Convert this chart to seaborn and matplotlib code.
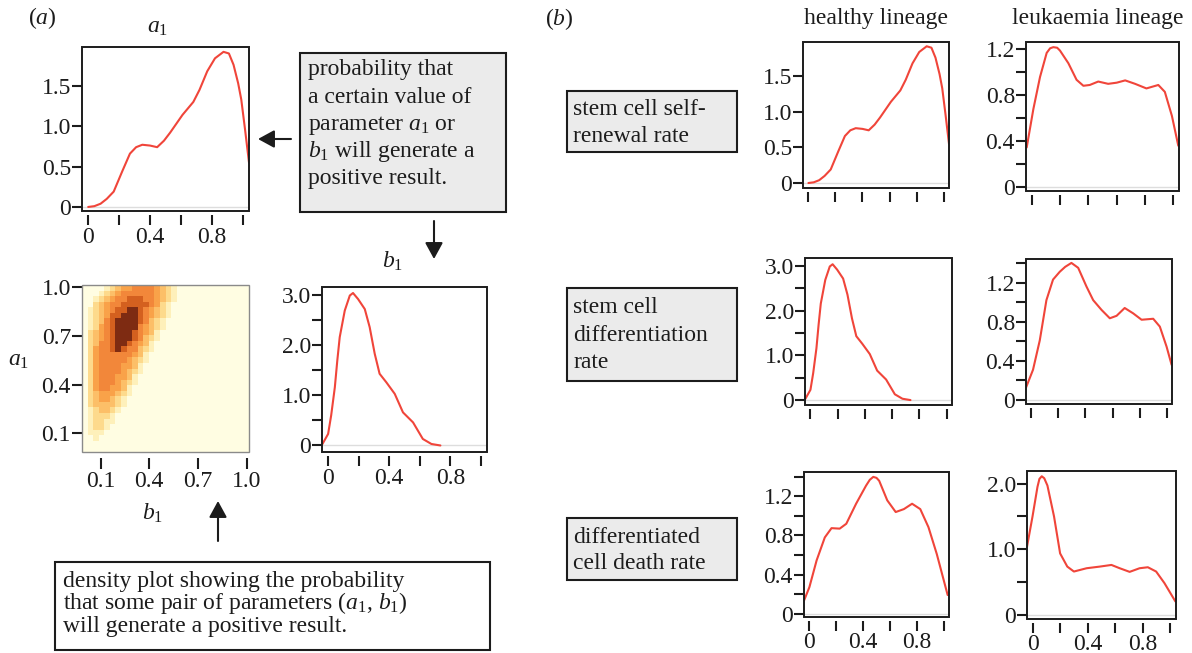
import numpy as np
import matplotlib
matplotlib.use("Agg")
import matplotlib.pyplot as plt
from matplotlib.colors import ListedColormap
from matplotlib.patches import Rectangle, FancyArrowPatch
import seaborn as sns

sns.set_theme(style="ticks")
plt.rcParams["font.family"] = ["Liberation Serif", "DejaVu Serif"]
plt.rcParams["mathtext.fontset"] = "custom"
plt.rcParams["mathtext.rm"] = "Liberation Serif"
plt.rcParams["mathtext.it"] = "Liberation Serif:italic"

# -----------------------------
# Data
# -----------------------------
# marginal density of a1 (also healthy self-renewal)
a1_x = [0.0, 0.04, 0.08, 0.12, 0.165, 0.22, 0.27, 0.31, 0.35, 0.40, 0.446, 0.49, 0.53, 0.57,
        0.61, 0.68, 0.72, 0.77, 0.82, 0.875, 0.91, 0.94, 0.97, 0.99, 1.015, 1.04]
a1_y = [0.0, 0.01, 0.04, 0.10, 0.19, 0.44, 0.66, 0.74, 0.77, 0.76, 0.74, 0.82, 0.92, 1.03,
        1.14, 1.30, 1.45, 1.68, 1.84, 1.92, 1.90, 1.76, 1.53, 1.33, 0.95, 0.55]

# marginal density of b1 (also healthy differentiation)
b1_x = [-0.037, 0.0, 0.02, 0.044, 0.06, 0.076, 0.109, 0.142, 0.163, 0.196, 0.24, 0.272, 0.305,
        0.337, 0.381, 0.436, 0.49, 0.556, 0.62, 0.676, 0.735]
b1_y = [0.03, 0.23, 0.60, 1.16, 1.69, 2.16, 2.69, 2.99, 3.04, 2.92, 2.72, 2.36, 1.83,
        1.43, 1.26, 1.03, 0.66, 0.46, 0.13, 0.03, 0.0]

# leukaemia self-renewal
ls_x = [-0.035, 0.012, 0.059, 0.106, 0.13, 0.153, 0.18, 0.2, 0.259, 0.317, 0.365, 0.41, 0.47,
        0.54, 0.60, 0.66, 0.73, 0.81, 0.894, 0.94, 0.99, 1.035]
ls_y = [0.345, 0.68, 0.96, 1.17, 1.21, 1.22, 1.215, 1.19, 1.08, 0.935, 0.883, 0.89, 0.92,
        0.90, 0.91, 0.93, 0.90, 0.86, 0.89, 0.83, 0.62, 0.36]

# leukaemia differentiation
ld_x = [-0.042, 0.012, 0.062, 0.111, 0.16, 0.21, 0.25, 0.296, 0.346, 0.407, 0.457, 0.519,
        0.58, 0.63, 0.69, 0.753, 0.815, 0.901, 0.95, 1.0, 1.037]
ld_y = [0.12, 0.31, 0.61, 1.02, 1.23, 1.31, 1.36, 1.40, 1.35, 1.16, 1.02, 0.92,
        0.835, 0.86, 0.94, 0.885, 0.82, 0.83, 0.75, 0.545, 0.36]

# healthy differentiated cell death
hd_x = [-0.039, 0.0, 0.054, 0.115, 0.165, 0.226, 0.275, 0.348, 0.422, 0.45, 0.476, 0.50,
        0.52, 0.58, 0.643, 0.704, 0.765, 0.826, 0.887, 0.949, 1.03]
hd_y = [0.136, 0.27, 0.545, 0.78, 0.875, 0.87, 0.92, 1.125, 1.31, 1.37, 1.40, 1.39,
        1.36, 1.16, 1.04, 1.07, 1.125, 1.07, 0.885, 0.61, 0.19]

# leukaemia differentiated cell death
lx_x = [-0.04, 0.0, 0.036, 0.05, 0.067, 0.085, 0.108, 0.156, 0.2, 0.252, 0.3, 0.392, 0.488,
        0.572, 0.632, 0.704, 0.776, 0.836, 0.896, 0.956, 1.036]
lx_y = [1.04, 1.5, 1.95, 2.07, 2.11, 2.08, 1.97, 1.5, 0.94, 0.74, 0.665, 0.715, 0.74,
        0.765, 0.715, 0.66, 0.715, 0.73, 0.665, 0.49, 0.21]

# joint density (a1 rows top->bottom, b1 columns left->right), binned levels 0-7
heat_rows = [
    "000012344555543210000000000000",
    "000123455555543210000000000000",
    "001234556665543210000000000000",
    "002345566666542100000000000000",
    "012345667765432100000000000000",
    "012346677765432100000000000000",
    "012356777765321000000000000000",
    "012456777754321000000000000000",
    "023456777654310000000000000000",
    "023456777653210000000000000000",
    "023556776543100000000000000000",
    "024556765532100000000000000000",
    "024555555431000000000000000000",
    "024555554321000000000000000000",
    "024555544310000000000000000000",
    "024555543210000000000000000000",
    "024555443100000000000000000000",
    "024555432100000000000000000000",
    "024554431000000000000000000000",
    "023444321000000000000000000000",
    "023443210000000000000000000000",
    "023333210000000000000000000000",
    "012332100000000000000000000000",
    "012221000000000000000000000000",
    "012211000000000000000000000000",
    "012210000000000000000000000000",
    "011100000000000000000000000000",
    "001000000000000000000000000000",
    "000000000000000000000000000000",
    "000000000000000000000000000000",
]
heat_colors = ["#FFFDE2", "#FEF0BA", "#FDDA8C", "#FCBF68", "#F9A249", "#F2873A",
               "#D4601F", "#7E2B12"]
heat_lo, heat_hi = -0.015, 1.015
heat_ticks = [0.1, 0.4, 0.7, 1.0]

x_ticks = [0, 0.2, 0.4, 0.6, 0.8, 1.0]
x_labels = ["0", "", "0.4", "", "0.8", ""]

RED = "#F0453A"
INK = "#1c1c1c"
FS = 17
W, H = 1192, 653

fig = plt.figure(figsize=(W / 100, H / 100), dpi=100)


def box_axes(x0, y0, x1, y1):
    # pixel box measured from the top-left corner of the figure
    return fig.add_axes([x0 / W, 1 - y1 / H, (x1 - x0) / W, (y1 - y0) / H])


def ftext(x, y, s, **kw):
    kw.setdefault("va", "baseline")
    kw.setdefault("color", INK)
    fig.text(x / W, 1 - y / H, s, fontsize=FS, **kw)


def frame(ax, gap=3, color=INK, lw=1.4):
    for s in ax.spines.values():
        s.set_visible(True)
        s.set_color("none")
    ax.spines["bottom"].set_position(("outward", gap))
    ax.add_patch(Rectangle((0, 0), 1, 1, transform=ax.transAxes, fill=False,
                           ec=color, lw=lw, clip_on=False, zorder=5))


def curve_panel(box, xs, ys, ylim, yticks, ylabels, show_x=True, xpad=1.5):
    ax = box_axes(*box)
    ax.axhline(0, color="#dddddd", lw=1.0, zorder=0)
    sns.lineplot(x=xs, y=ys, ax=ax, color=RED, linewidth=1.5)
    ax.set_xlim(-0.04, 1.04)
    ax.set_ylim(*ylim)
    ax.set_xticks(x_ticks)
    ax.set_xticklabels(x_labels if show_x else [""] * len(x_ticks))
    ax.set_yticks(yticks)
    ax.set_yticklabels(ylabels)
    ax.set_facecolor("white")
    frame(ax)
    ax.tick_params(axis="both", direction="out", length=7, width=1.5, color=INK,
                   labelsize=FS, labelcolor=INK)
    ax.tick_params(axis="x", pad=xpad)
    ax.tick_params(axis="y", pad=1)
    return ax


# -----------------------------
# Panel (a)
# -----------------------------
curve_panel((82, 47, 249, 211), a1_x, a1_y, (-0.05, 1.98),
            [0, 0.5, 1.0, 1.5], ["0", "0.5", "1.0", "1.5"])
curve_panel((322, 287, 487, 452), b1_x, b1_y, (-0.13, 3.16),
            [0, 0.5, 1.0, 1.5, 2.0, 2.5, 3.0], ["0", "", "1.0", "", "2.0", "", "3.0"])

# joint density heat map
hax = box_axes(82, 285, 249, 452)
grid = np.array([[int(c) for c in row] for row in heat_rows])
sns.heatmap(grid, ax=hax, cmap=ListedColormap(heat_colors), vmin=-0.5, vmax=7.5,
            cbar=False, xticklabels=False, yticklabels=False)
cell = (heat_hi - heat_lo) / grid.shape[1]
hax.set_xticks([(v - heat_lo) / cell for v in heat_ticks])
hax.set_xticklabels([f"{v:.1f}" for v in heat_ticks])
hax.set_yticks([(heat_hi - v) / cell for v in heat_ticks])
hax.set_yticklabels([f"{v:.1f}" for v in heat_ticks], rotation=0)
frame(hax, gap=4, color="#8a8a8a", lw=1.0)
hax.tick_params(axis="both", direction="out", length=7, width=1.5, color=INK,
                labelsize=FS, labelcolor=INK)
hax.tick_params(axis="x", pad=2, length=8)
hax.tick_params(axis="y", pad=1)

ftext(42, 24, "($a$)", ha="center")
ftext(158, 33, "$a_1$", ha="center")
ftext(393, 268, "$b_1$", ha="center")
ftext(19, 366, "$a_1$", ha="center")
ftext(153, 520, "$b_1$", ha="center")

# annotation boxes
fig.add_artist(Rectangle((300 / W, 1 - 211.7 / H), 206 / W, 159 / H, transform=fig.transFigure,
                         fc="#ebebeb", ec=INK, lw=1.5))
box1_lines = ["probability that", "a certain value of", "parameter $a_1$ or",
              "$b_1$ will generate a", "positive result."]
for i, line in enumerate(box1_lines):
    ftext(308, 75.5 + 27.2 * i, line, ha="left")

fig.add_artist(Rectangle((55 / W, 1 - 650 / H), 435 / W, 88.3 / H, transform=fig.transFigure,
                         fc="white", ec=INK, lw=1.5))
box2_lines = ["density plot showing the probability",
              "that some pair of parameters ($a_1$, $b_1$)",
              "will generate a positive result."]
for i, line in enumerate(box2_lines):
    ftext(63, 587 + 22.5 * i, line, ha="left")


def arrow(p0, p1):
    fig.add_artist(FancyArrowPatch((p0[0] / W, 1 - p0[1] / H), (p1[0] / W, 1 - p1[1] / H),
                                   transform=fig.transFigure, color=INK, lw=1.5,
                                   arrowstyle="-|>,head_length=0.55,head_width=0.3",
                                   mutation_scale=18, shrinkA=0, shrinkB=0))


arrow((291, 139), (258, 139))
arrow((434, 221), (434, 259))
arrow((218, 541), (218, 501))

# -----------------------------
# Panel (b)
# -----------------------------
ftext(559, 25, "($b$)", ha="center")
ftext(876, 24, "healthy lineage", ha="center")
ftext(1098, 24, "leukaemia lineage", ha="center")

curve_panel((803, 42, 949, 188), a1_x, a1_y, (-0.07, 1.98),
            [0, 0.5, 1.0, 1.5], ["0", "0.5", "1.0", "1.5"], show_x=False)
curve_panel((1026, 42, 1179, 191), ls_x, ls_y, (-0.035, 1.265),
            [0, 0.2, 0.4, 0.6, 0.8, 1.0, 1.2], ["0", "", "0.4", "", "0.8", "", "1.2"], show_x=False)
curve_panel((805, 258, 952, 405), b1_x, b1_y, (-0.11, 3.18),
            [0, 0.5, 1.0, 1.5, 2.0, 2.5, 3.0], ["0", "", "1.0", "", "2.0", "", "3.0"], show_x=False)
curve_panel((1026, 259, 1172, 404), ld_x, ld_y, (-0.04, 1.44),
            [0, 0.2, 0.4, 0.6, 0.8, 1.0, 1.2, 1.4], ["0", "", "0.4", "", "0.8", "", "1.2", ""],
            show_x=False)
curve_panel((804, 472, 949, 617), hd_x, hd_y, (-0.035, 1.45),
            [0, 0.2, 0.4, 0.6, 0.8, 1.0, 1.2, 1.4], ["0", "", "0.4", "", "0.8", "", "1.2", ""],
            xpad=0.5)
curve_panel((1027, 471, 1176, 619), lx_x, lx_y, (-0.055, 2.19),
            [0, 0.5, 1.0, 1.5, 2.0], ["0", "", "1.0", "", "2.0"], xpad=0.5)

row_boxes = [(90.7, 152.3), (287.7, 380.7), (518.3, 580)]
row_baselines = [[115, 141.7], [313.3, 341.2, 368.3], [542.7, 569]]
row_lines = [["stem cell self-", "renewal rate"],
             ["stem cell", "differentiation", "rate"],
             ["differentiated", "cell death rate"]]
for (top, bot), bases, lines in zip(row_boxes, row_baselines, row_lines):
    fig.add_artist(Rectangle((566.7 / W, 1 - bot / H), 170.6 / W, (bot - top) / H,
                             transform=fig.transFigure, fc="#ebebeb", ec=INK, lw=1.5))
    for yb, line in zip(bases, lines):
        ftext(573, yb, line, ha="left")

fig.savefig("out.png", dpi=100)
